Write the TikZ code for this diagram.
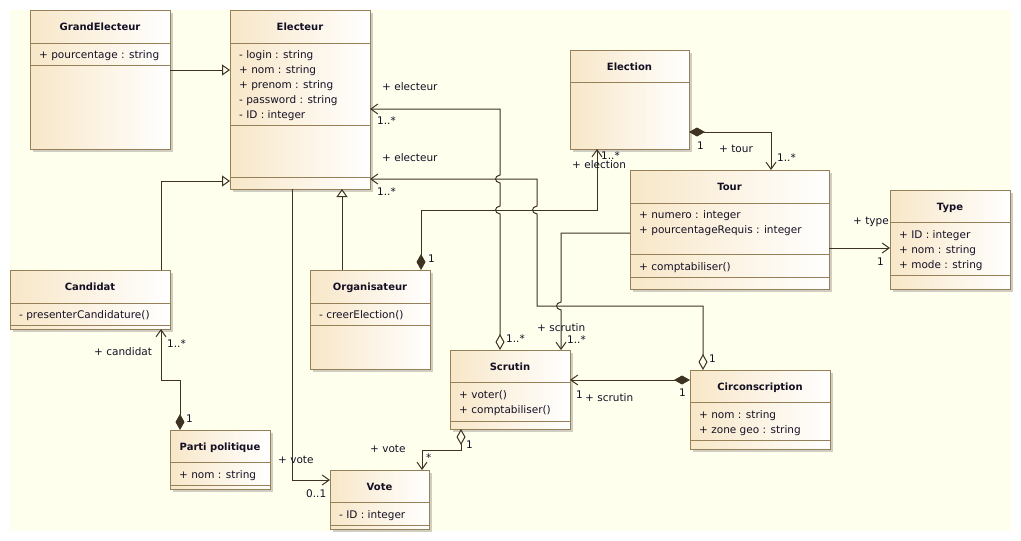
\documentclass[tikz,border=0pt]{standalone}
\usepackage{fontspec}
\setmainfont{DejaVu Sans}
\usetikzlibrary{arrows.meta}

\definecolor{bgc}{RGB}{255,255,238}
\definecolor{boxl}{RGB}{248,231,200}
\definecolor{boxb}{RGB}{150,128,88}
\definecolor{shd}{RGB}{208,206,194}
\definecolor{wirec}{RGB}{62,50,34}
\definecolor{txt}{RGB}{20,16,36}

\tikzset{
  classbox/.style={draw=boxb, line width=1pt, left color=boxl, right color=white,
    anchor=north west, inner sep=0pt, outer sep=0pt},
  classtitle/.style={font=\fontsize{10}{12}\selectfont\bfseries, inner sep=0pt, anchor=base, text=txt},
  lab/.style={font=\fontsize{10.5}{12}\selectfont, inner sep=0pt, anchor=base west, text=txt},
  sep/.style={draw=boxb, line width=1pt},
  wire/.style={draw=wirec, line width=1pt},
  gen/.style={wire, -{Triangle[open, length=8pt, width=11pt]}},
  nav/.style={wire, -{Straight Barb[length=7pt, width=10pt]}},
  comp/.style={wire, {Diamond[length=16pt, width=9pt]}-{Straight Barb[length=7pt, width=10pt]}},
  aggr/.style={wire, {Diamond[open, length=16pt, width=9pt]}-{Straight Barb[length=7pt, width=10pt]}},
}

% class box: name, x, y, width, height, title
\newcommand\umlclass[6]{%
  \fill[shd] (#2+3,#3+3) rectangle (#2+#4+3,#3+#5+3);
  \node[classbox, minimum width=#4pt, minimum height=#5pt] (#1) at (#2,#3) {};
  \node[classtitle] (#1-title) at ([yshift=-20pt]#1.north) {#6};
}
% compartment separator at a given depth below the top edge
\newcommand\compsep[2]{\draw[sep] ([yshift=-#2pt]#1.north west) -- ([yshift=-#2pt]#1.north east);}
% text line: name, x, baseline y, text
\newcommand\txtline[4]{\node[lab] (#1) at (#2,#3) {#4};}

\begin{document}
\begin{tikzpicture}[x=1pt, y=-1pt]
\useasboundingbox (0,0) rectangle (1021,541);
\fill[white] (0,0) rectangle (1021,541);
\fill[bgc] (10,10) rectangle (1011,531);

% ---------- classes ----------
\umlclass{ge}{30}{10}{140}{139}{GrandElecteur}
\compsep{ge}{33}\compsep{ge}{55}
\txtline{ge1}{39}{58}{+ pourcentage : string}

\umlclass{el}{230}{10}{140}{179}{Electeur}
\compsep{el}{33}\compsep{el}{115}\compsep{el}{167}
\txtline{el1}{239}{58}{- login : string}
\txtline{el2}{239}{73}{+ nom : string}
\txtline{el3}{239}{88}{+ prenom : string}
\txtline{el4}{239}{103}{- password : string}
\txtline{el5}{239}{118}{- ID : integer}

\umlclass{elec}{570}{50}{119}{99}{Election}
\compsep{elec}{32}

\umlclass{tour}{630}{170}{199}{119}{Tour}
\compsep{tour}{33}\compsep{tour}{84}\compsep{tour}{107}
\txtline{tour1}{639}{218}{+ numero : integer}
\txtline{tour2}{639}{233}{+ pourcentageRequis : integer}
\txtline{tour3}{639}{270}{+ comptabiliser()}

\umlclass{type}{890}{190}{120}{99}{Type}
\compsep{type}{32}\compsep{type}{85}
\txtline{type1}{899}{238}{+ ID : integer}
\txtline{type2}{899}{253}{+ nom : string}
\txtline{type3}{899}{268}{+ mode : string}

\umlclass{cand}{10}{270}{160}{59}{Candidat}
\compsep{cand}{33}\compsep{cand}{55}
\txtline{cand1}{19}{318}{- presenterCandidature()}

\umlclass{org}{310}{270}{120}{99}{Organisateur}
\compsep{org}{33}\compsep{org}{55}
\txtline{org1}{319}{318}{- creerElection()}

\umlclass{scr}{450}{350}{120}{79}{Scrutin}
\compsep{scr}{32}\compsep{scr}{71}
\txtline{scr1}{459}{398}{+ voter()}
\txtline{scr2}{459}{413}{+ comptabiliser()}

\umlclass{vote}{330}{470}{99}{59}{Vote}
\compsep{vote}{32}\compsep{vote}{55}
\txtline{vote1}{339}{518}{- ID : integer}

\umlclass{parti}{170}{430}{100}{59}{Parti politique}
\compsep{parti}{32}\compsep{parti}{55}
\txtline{parti1}{179}{478}{+ nom : string}

\umlclass{circ}{690}{370}{140}{79}{Circonscription}
\compsep{circ}{32}\compsep{circ}{70}
\txtline{circ1}{699}{418}{+ nom : string}
\txtline{circ2}{699}{433}{+ zone geo : string}

% ---------- generalisations ----------
\draw[gen] ([yshift=-60pt]ge.north east) -- ([yshift=-60pt]el.north west);
\draw[gen] ([xshift=151pt]cand.north west) |- ([yshift=-171pt]el.north west);
\draw[gen] ([xshift=32pt]org.north west) -- ([xshift=112pt]el.south west);

% ---------- associations ----------
% Electeur -> Vote
\draw[nav] ([xshift=62pt]el.south west) |- ([yshift=-10pt]vote.north west);
% Parti politique <>-> Candidat
\draw[comp] ([xshift=10pt]parti.north west) -- (180,380) -| ([xshift=151pt]cand.south west);
% Scrutin <>-> Electeur (hops over two horizontal lines)
\draw[aggr] ([xshift=50pt]scr.north west) -- (500,214)
  .. controls (494,213) and (494,207) .. (500,206) -- (500,183)
  .. controls (494,182) and (494,176) .. (500,175)
  |- ([yshift=-99pt]el.north east);
% Circonscription <>-> Electeur
\draw[aggr] ([xshift=13pt]circ.north west) |- (537,306) -- (537,214)
  .. controls (531,213) and (531,207) .. (537,206)
  |- ([yshift=-169pt]el.north east);
% Organisateur <#>-> Election
\draw[comp] ([xshift=111pt]org.north west) |- (597,210) -- ([xshift=27pt]elec.south west);
% Election <#>-> Tour
\draw[comp] ([yshift=-82pt]elec.north east) -| ([xshift=141pt]tour.north west);
% Tour -> Type
\draw[nav] ([yshift=-78pt]tour.north east) -- ([yshift=-58pt]type.north west);
% Tour -> Scrutin (hops over the Circonscription line)
\draw[nav] ([yshift=-63pt]tour.north west) -| (561,302)
  .. controls (555,303) and (555,309) .. (561,310)
  -- ([xshift=111pt]scr.north west);
% Circonscription <#>-> Scrutin
\draw[comp] ([yshift=-10pt]circ.north west) -- ([yshift=-30pt]scr.north east);
% Scrutin <>-> Vote
\draw[aggr] ([xshift=11pt]scr.south west) |- (422,450) -- ([xshift=92pt]vote.north west);

% ---------- roles and multiplicities ----------
\txtline{r1}{382}{90}{+ electeur}
\txtline{m1}{377}{124}{1..*}
\txtline{r2}{382}{161}{+ electeur}
\txtline{m2}{377}{195}{1..*}
\txtline{m3}{506}{342}{1..*}
\txtline{r3}{572}{168}{+ election}
\txtline{m4}{601}{159}{1..*}
\txtline{m5}{428}{262}{1}
\txtline{m6}{697}{149}{1}
\txtline{r4}{719}{152}{+ tour}
\txtline{m7}{777}{161}{1..*}
\txtline{r5}{853}{224}{+ type}
\txtline{m8}{877}{265}{1}
\txtline{r6}{537}{331}{+ scrutin}
\txtline{m9}{567}{343}{1..*}
\txtline{m10}{709}{362}{1}
\txtline{m11}{679}{396}{1}
\txtline{m12}{576}{398}{1}
\txtline{r7}{585}{401}{+ scrutin}
\txtline{m13}{466}{448}{1}
\txtline{r8}{370}{452}{+ vote}
\txtline{m14}{426}{461}{*}
\txtline{r9}{278}{463}{+ vote}
\txtline{m15}{306}{497}{0..1}
\txtline{r10}{94}{355}{+ candidat}
\txtline{m16}{167}{347}{1..*}
\txtline{m17}{186}{422}{1}
\end{tikzpicture}
\end{document}
